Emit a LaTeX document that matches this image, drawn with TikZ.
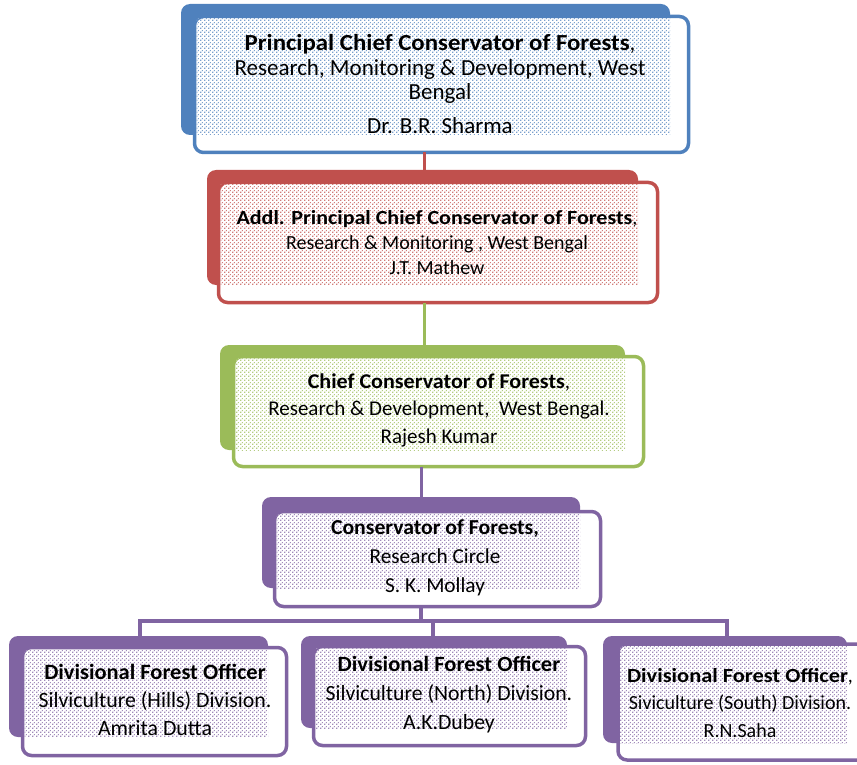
\documentclass[tikz,border=0pt]{standalone}
\usepackage{fontspec}
\setmainfont{Carlito}
\usetikzlibrary{patterns,calc}
\definecolor{cblue}{HTML}{4F81BD}
\definecolor{cred}{HTML}{C0504D}
\definecolor{cgreen}{HTML}{9BBB59}
\definecolor{cpurple}{HTML}{8064A2}
\pgfdeclarepatternformonly{sqdots}{\pgfpointorigin}{\pgfpoint{4pt}{4pt}}{\pgfpoint{4pt}{4pt}}{%
  \pgfpathrectangle{\pgfpoint{0.3pt}{0.3pt}}{\pgfpoint{1.4pt}{1.4pt}}%
  \pgfpathrectangle{\pgfpoint{2.3pt}{2.3pt}}{\pgfpoint{1.4pt}{1.4pt}}%
  \pgfusepath{fill}}
\newcommand\bx[2]{{\bfseries\addfontfeatures{FakeStretch=#1}#2}}
\begin{document}
\begin{tikzpicture}[x=1pt,y=-1pt,
  back/.style={fill=#1, draw=none, rounded corners=9pt, inner sep=0pt, outer sep=0pt},
  front/.style={fill=white, draw=#1, line width=3.5pt, rounded corners=9pt, inner sep=0pt, outer sep=0pt},
  dotsfill/.style={pattern=sqdots, pattern color=#1!75},
  lbl/.style={align=center, inner sep=0pt, text=black},
  conn/.style={draw=#1, line width=3pt}]
\useasboundingbox (0,0) rectangle (857,765);

% named coordinates for connector columns
\coordinate (x12) at (424,0);
\coordinate (x34) at (421,0);
\coordinate (j) at (421,621);
\coordinate (x5) at (140,0);
\coordinate (x6) at (433,0);
\coordinate (x7) at (727,0);

% back (shadow) boxes
\node[back=cblue,   minimum width=489pt, minimum height=131pt] (s1) at (425.5,69.5) {};
\node[back=cred,    minimum width=431pt, minimum height=115pt] (s2) at (422.5,227.5) {};
\node[back=cgreen,  minimum width=405pt, minimum height=105pt] (s3) at (422.5,397.5) {};
\node[back=cpurple, minimum width=318pt, minimum height=91pt]  (s4) at (421,542.5) {};
\node[back=cpurple, minimum width=259pt, minimum height=101pt] (s5) at (138.5,686.5) {};
\node[back=cpurple, minimum width=266pt, minimum height=92pt]  (s6) at (434,682) {};
\node[back=cpurple, minimum width=244pt, minimum height=107pt] (s7) at (725,689.5) {};

% front boxes
\node[front=cblue,   minimum width=494pt, minimum height=136pt] (f1) at (441.5,84.5) {};
\node[front=cred,    minimum width=439pt, minimum height=120pt] (f2) at (438,242.5) {};
\node[front=cgreen,  minimum width=410pt, minimum height=110pt] (f3) at (438.5,411.5) {};
\node[front=cpurple, minimum width=326pt, minimum height=95pt]  (f4) at (437.5,559) {};
\node[front=cpurple, minimum width=264pt, minimum height=108pt] (f5) at (154.5,701.5) {};
\node[front=cpurple, minimum width=272pt, minimum height=99pt]  (f6) at (449.5,696) {};
\node[front=cpurple, minimum width=254pt, minimum height=116pt] (f7) at (745,702) {};

% dotted pattern areas
\fill[dotsfill=cblue]   ($(f1.north west)+(2pt,-2pt)$) rectangle (s1.south east);
\fill[dotsfill=cred]    ($(f2.north west)+(2pt,-2pt)$) rectangle (s2.south east);
\fill[dotsfill=cgreen]  ($(f3.north west)+(2pt,-2pt)$) rectangle (s3.south east);
\fill[dotsfill=cpurple] ($(f4.north west)+(2pt,-2pt)$) rectangle (s4.south east);
\fill[dotsfill=cpurple] ($(f5.north west)+(2pt,-2pt)$) rectangle (s5.south east);
\fill[dotsfill=cpurple] ($(f6.north west)+(2pt,-2pt)$) rectangle (s6.south east);
\fill[dotsfill=cpurple] ($(f7.north west)+(2pt,-2pt)$) rectangle (s7.south east);

% connectors
\draw[conn=cred]    (f1.south -| x12) -- (s2.north -| x12);
\draw[conn=cgreen]  (f2.south -| x12) -- (s3.north -| x12);
\draw[conn=cpurple] (f3.south -| x34) -- (s4.north -| x34);
\draw[conn=cpurple, line width=4pt] (f4.south -| j) -- (j);
\draw[conn=cpurple, line width=4pt] (s5.north -| x5) |- (j) -| (s7.north -| x7);
\draw[conn=cpurple, line width=4pt] (x6 |- j) -- (s6.north -| x6);

% texts
\node[lbl, font=\fontsize{23}{24.5}\selectfont] (t1) at (440,84)
  {\bx{1.08}{Principal Chief Conservator of Forests},\\
   Research, Monitoring \& Development, West\\
   Bengal\\[9pt]
   Dr. B.R. Sharma};
\node[lbl, font=\fontsize{20}{25}\selectfont] (t2) at (437,243)
  {\bx{1.1}{Addl. Principal Chief Conservator of Forests},\\
   Research \& Monitoring , West Bengal\\
   J.T. Mathew};
\node[lbl, font=\fontsize{21}{27.5}\selectfont] (t3) at (439,410)
  {\bx{1.05}{Chief Conservator of Forests},\\
   Research \& Development,\ \ West Bengal.\\
   Rajesh Kumar};
\node[lbl, font=\fontsize{21.3}{29}\selectfont] (t4) at (435,558)
  {\bx{1.02}{Conservator of Forests,}\\
   Research Circle\\
   S. K. Mollay};
\node[lbl, font=\fontsize{21.8}{28}\selectfont] (t5) at (155,700)
  {\bx{1.03}{Divisional Forest Officer}\\
   Silviculture (Hills) Division.\\
   Amrita Dutta};
\node[lbl, font=\fontsize{21.7}{29}\selectfont] (t6) at (449,695)
  {\bx{1.04}{Divisional Forest Officer}\\
   Silviculture (North) Division.\\
   A.K.Dubey};
\node[lbl, font=\fontsize{20}{27.5}\selectfont] (t7) at (740,703)
  {\bx{1.12}{Divisional Forest Officer},\\
   Siviculture (South) Division.\\
   R.N.Saha};
\end{tikzpicture}
\end{document}
